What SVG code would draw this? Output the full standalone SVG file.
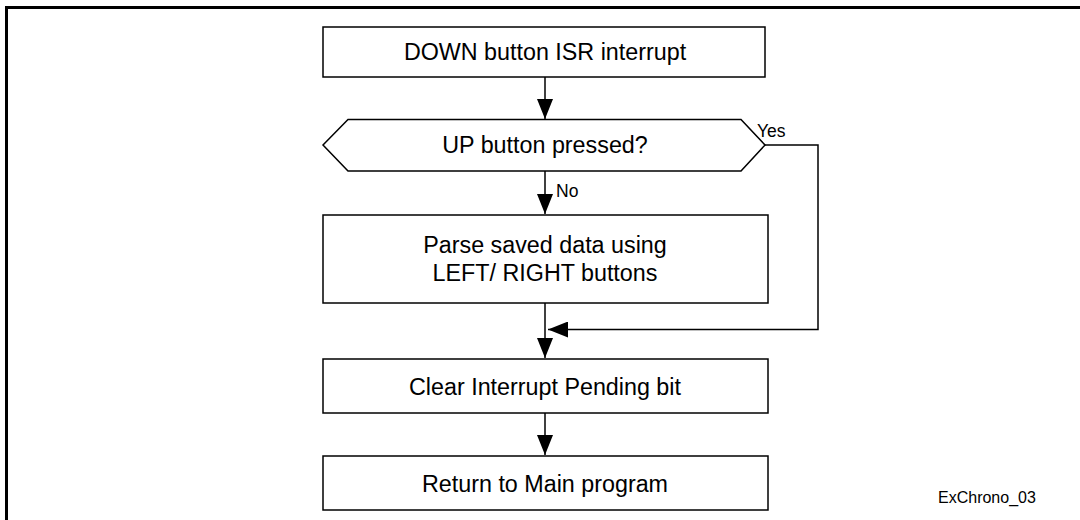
<svg xmlns="http://www.w3.org/2000/svg" width="1080" height="520" viewBox="0 0 1080 520">
<defs>
<style>
.box{fill:#fff;stroke:#000;stroke-width:1.5}
.frame{fill:none;stroke:#000;stroke-width:3}
.ln{fill:none;stroke:#000;stroke-width:1.5}
.t{font-family:"Liberation Sans",Arial,sans-serif;font-size:23.3px;fill:#000;text-anchor:middle}
.s{font-family:"Liberation Sans",Arial,sans-serif;font-size:17.5px;fill:#000}
.f{font-family:"Liberation Sans",Arial,sans-serif;font-size:16px;fill:#000}
</style>
<marker id="ah" viewBox="0 0 20 16" refX="20" refY="8" markerWidth="20" markerHeight="16" markerUnits="userSpaceOnUse" orient="auto">
<path d="M0,0 L20,8 L0,16 Z" fill="#000"/>
</marker>
</defs>
<rect width="1080" height="520" fill="#fff"/>
<path class="frame" d="M6.5,520 V7.5 H1080"/>
<g id="connectors">
<line class="ln" x1="545" y1="77" x2="545" y2="119" marker-end="url(#ah)"/>
<line class="ln" x1="545" y1="171" x2="545" y2="214" marker-end="url(#ah)"/>
<polyline class="ln" points="765,145 818,145 818,329.5 548,329.5" marker-end="url(#ah)"/>
<line class="ln" x1="545" y1="303" x2="545" y2="358" marker-end="url(#ah)"/>
<line class="ln" x1="545" y1="413" x2="545" y2="455" marker-end="url(#ah)"/>
<text class="s" x="757" y="137">Yes</text>
<text class="s" x="556" y="197">No</text>
</g>
<g id="n1">
<rect class="box" x="323" y="27" width="442" height="50"/>
<text class="t" x="545" y="60">DOWN button ISR interrupt</text>
</g>
<g id="n2">
<polygon class="box" points="323,145 348,119.5 741,119.5 765,145 741,171 348,171"/>
<text class="t" x="545" y="153">UP button pressed?</text>
</g>
<g id="n3">
<rect class="box" x="323" y="215" width="445" height="88"/>
<text class="t" x="545" y="253">Parse saved data using</text>
<text class="t" x="545" y="281">LEFT/ RIGHT buttons</text>
</g>
<g id="n4">
<rect class="box" x="323" y="359" width="445" height="54"/>
<text class="t" x="545" y="395">Clear Interrupt Pending bit</text>
</g>
<g id="n5">
<rect class="box" x="323" y="456" width="445" height="54"/>
<text class="t" x="545" y="492">Return to Main program</text>
</g>
<text class="f" x="938" y="503">ExChrono_03</text>
</svg>
